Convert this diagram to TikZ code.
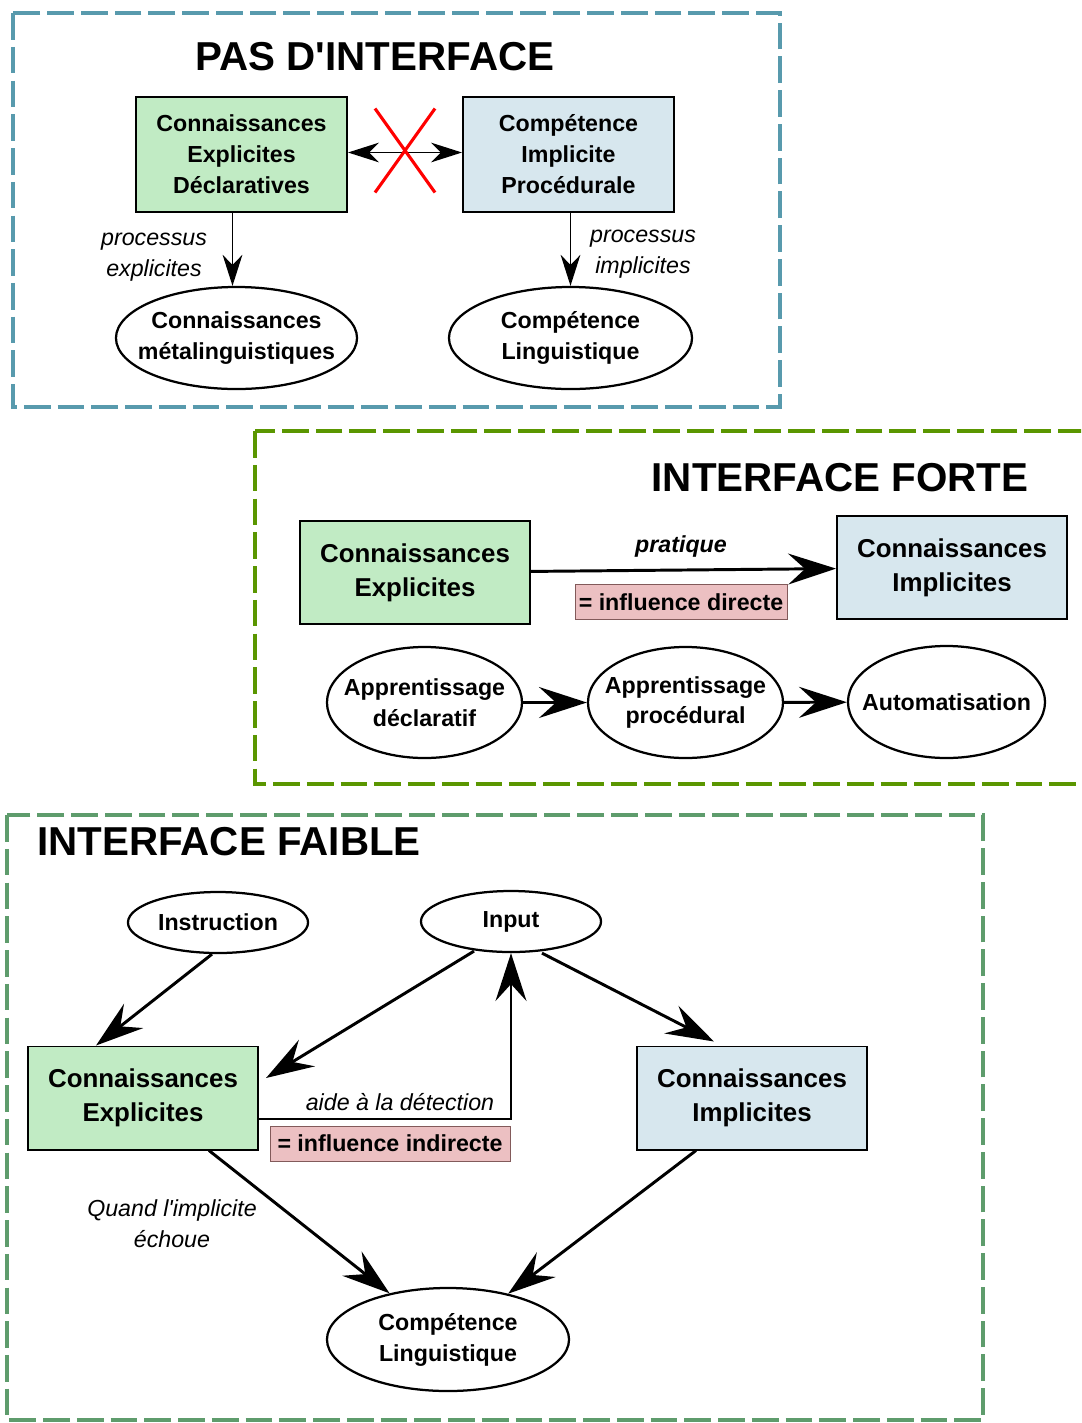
\documentclass[tikz,border=0pt]{standalone}
\usepackage{fontspec}
\setmainfont{Liberation Sans}
\usetikzlibrary{positioning,calc,shapes.geometric,arrows.meta}
\definecolor{frameblue}{RGB}{88,154,173}
\definecolor{frameolive}{RGB}{90,150,0}
\definecolor{framegreen}{RGB}{94,156,108}
\definecolor{boxgreen}{RGB}{193,235,196}
\definecolor{boxblue}{RGB}{215,231,238}
\definecolor{boxpink}{RGB}{236,192,194}
\definecolor{pinkline}{RGB}{130,90,90}
\newcommand{\smallfont}{\fontsize{16.5}{22}\selectfont}
\newcommand{\bigfont}{\fontsize{18.4}{24}\selectfont}
\newcommand{\headfont}{\fontsize{28.7}{34}\selectfont\bfseries}
\tikzset{
  dashframe/.style={dash pattern=on 19pt off 5pt, line width=3.5pt},
  heading/.style={inner sep=0pt, font=\headfont},
  kbox/.style={draw, line width=1.4pt, align=center, inner sep=0pt, font=\smallfont\bfseries},
  kbigbox/.style={kbox, font=\bigfont\bfseries, minimum width=5.75cm, minimum height=2.575cm},
  oval/.style={draw, ellipse, line width=1.6pt, inner sep=-1cm, align=center, font=\smallfont\bfseries},
  note/.style={inner sep=0pt, align=center, font=\smallfont\itshape},
  tagbox/.style={draw=pinkline, line width=0.6pt, fill=boxpink, inner sep=0pt, minimum height=0.875cm, font=\smallfont\bfseries},
  slim/.style={line width=1.1pt, -{Stealth[length=22pt,width=14pt,inset=7pt]}},
  slimboth/.style={line width=1.1pt, {Stealth[length=22pt,width=14pt,inset=7pt]}-{Stealth[length=22pt,width=14pt,inset=7pt]}},
  heavy/.style={line width=2.1pt, -{Stealth[length=34pt,width=22pt,inset=12pt]}},
  cross/.style={red, line width=2.2pt}
}
\begin{document}
\begin{tikzpicture}[x=0.025cm, y=-0.025cm]
\clip (0,0) rectangle (1081,1423);
% Pas d'interface
\draw[dashframe, frameblue] (13,13) rectangle (780,407);
\node[heading] (titlenone) at (375,57) {PAS D\textquotesingle INTERFACE};
\node[kbox, fill=boxgreen, minimum width=5.275cm, minimum height=2.875cm] (ced) at (241.5,154.5) {Connaissances\\Explicites\\Déclaratives};
\node[kbox, fill=boxblue, minimum width=5.275cm, minimum height=2.875cm] (cip) at (568.5,154.5) {Compétence\\Implicite\\Procédurale};
\node[oval, minimum width=6.025cm, minimum height=2.55cm] (meta) at (236.5,338) {Connaissances\\métalinguistiques};
\node[oval, minimum width=6.075cm, minimum height=2.55cm] (ling1) at (570.5,338) {Compétence\\Linguistique};
\draw[slimboth] ($(ced.east)+(0,-2)$) -- ($(cip.west)+(0,-2)$);
\coordinate (nox) at ($(ced.east)!0.5!(cip.west)+(0,-4)$);
\draw[cross] ($(nox)+(-30,-42)$) -- ($(nox)+(30,42)$);
\draw[cross] ($(nox)+(30,-42)$) -- ($(nox)+(-30,42)$);
\coordinate (expstart) at ($(ced.south)+(-9,0)$);
\draw[slim] (expstart) -- (expstart |- meta.north);
\draw[slim] (cip.south -| ling1.north) -- (ling1.north);
\node[note] (procexp) at (154,257) {processus\\explicites};
\node[note] (procimp) at (643,254) {processus\\implicites};
% Interface forte
\draw[dashframe, frameolive] (255,431) rectangle (1110,784);
\node[heading] (titlestrong) at (840,478) {INTERFACE FORTE};
\node[kbigbox, fill=boxgreen] (ce) at (415,572.5) {Connaissances\\Explicites};
\node[kbigbox, fill=boxblue] (ci) at (952,567.5) {Connaissances\\Implicites};
\draw[heavy] (ce) -- (ci);
\node[note, font=\smallfont\bfseries\itshape] (practice) at (681,546) {pratique};
\node[tagbox, minimum width=5.3cm] (direct) at (681,602) {= influence directe};
\node[oval, minimum width=4.875cm, minimum height=2.775cm] (decl) at (424.5,702.5) {Apprentissage\\déclaratif};
\node[oval, minimum width=4.875cm, minimum height=2.775cm] (proc) at (685.5,702.5) {Apprentissage\\procédural};
\node[oval, minimum width=4.925cm, minimum height=2.8cm] (auto) at (946.5,702) {Automatisation};
\draw[heavy] (decl) -- (proc);
\draw[heavy] (proc) -- (auto);
% Interface faible
\draw[dashframe, framegreen] (7,815) rectangle (983,1420);
\node[heading, anchor=west] (titleweak) at (37,842) {INTERFACE FAIBLE};
\node[oval, minimum width=4.5cm, minimum height=1.525cm] (instr) at (218,922.5) {Instruction};
\node[oval, minimum width=4.5cm, minimum height=1.525cm] (input) at (511,921.5) {Input};
\node[kbigbox, fill=boxgreen] (ce2) at (143,1098) {Connaissances\\Explicites};
\node[kbigbox, fill=boxblue] (ci2) at (752,1098) {Connaissances\\Implicites};
\node[oval, minimum width=6.05cm, minimum height=2.575cm] (ling2) at (448,1339.5) {Compétence\\Linguistique};
\draw[heavy] ($(instr.south)+(-6,0)$) -- ($(ce2.north west)+(69,0)$);
\draw[heavy] ($(input.south)+(-37,-2)$) -- ($(ce2.east)+(7,-20)$);
\draw[heavy] ($(input.south)+(31,0)$) -- ($(ci2.north west)+(78,-4)$);
\draw[heavy] ($(ce2.south east)+(-50,0)$) -- (ling2);
\draw[heavy] ($(ci2.south west)+(60,0)$) -- (ling2);
\draw[heavy] ($(ce2.east)+(0,21)$) -| (input.south);
\node[note] (detect) at (400,1102) {aide à la détection};
\node[tagbox, minimum width=6cm] (indirect) at (390,1143.5) {= influence indirecte};
\node[note] (fails) at (172,1224) {Quand l\textquotesingle implicite\\échoue};
\end{tikzpicture}
\end{document}
